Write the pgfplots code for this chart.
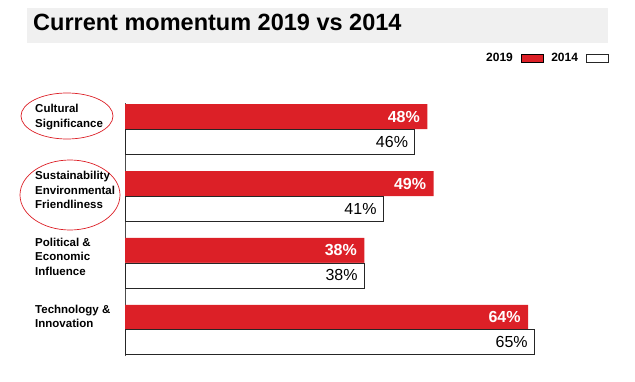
\documentclass[border=0pt]{standalone}
\usepackage{pgfplots}
\pgfplotsset{compat=1.18}
\usepackage{fontspec}
\setmainfont{Liberation Sans}
\definecolor{bred}{RGB}{220,32,39}
\definecolor{band}{RGB}{240,240,240}
\begin{document}
\begin{tikzpicture}[x=1pt,y=1pt]
\useasboundingbox (0,0) rectangle (635,381);
\fill[band] (27,338) rectangle (608,373);
\node[anchor=base west, inner sep=0, font=\bfseries\fontsize{23.5}{26}\selectfont] at (33,350) {Current momentum 2019 vs 2014};
\draw[bred, line width=0.7pt] (67,265) ellipse (46pt and 23pt);
\draw[bred, line width=0.7pt] (70,186) ellipse (50pt and 35pt);
\begin{axis}[
  at={(125pt,25pt)}, anchor=south west, scale only axis,
  width=485pt, height=253pt,
  xmin=0, xmax=77, ymin=-0.39, ymax=3.39,
  xbar, bar width=25pt,
  hide x axis, axis y line*=left, ytick=\empty,
  y axis line style={draw=black!70, line width=0.9pt},
  clip=false,
  /pgf/number format/assume math mode=true,
  nodes near coords={\pgfmathprintnumber{\pgfplotspointmeta}\%},
  nodes near coords align=center,
  legend style={at={(1,1)}, anchor=east, xshift=2pt, yshift=45pt, draw=none, fill=none,
    font=\bfseries\fontsize{12}{14}\selectfont, column sep=6pt},
  legend columns=2, legend plot pos=right,
  legend image code/.code={\draw[#1] (0pt,-4pt) rectangle (22pt,4pt);},
]
\addplot[fill=bred, draw=none, bar shift=12.5pt,
  every node near coord/.append style={anchor=east, xshift=-4pt, text=white, font=\bfseries\fontsize{16}{18}\selectfont}]
  coordinates {(48,3) (49,2) (38,1) (64,0)};
\addlegendentry{2019}
\addplot[fill=white, draw=black!85, line width=0.8pt, bar shift=-12.5pt,
  every node near coord/.append style={anchor=east, xshift=-3pt, text=black, font=\fontsize{16}{18}\selectfont}]
  coordinates {(46,3) (41,2) (38,1) (65,0)};
\addlegendentry{2014}
\begin{scope}[every node/.style={anchor=north west, inner sep=0, align=left, xshift=-90pt, yshift=25pt, font=\bfseries\fontsize{11.5}{14.5}\selectfont}]
\node at (axis cs:0,3) {Cultural\\Significance};
\node at (axis cs:0,2) {Sustainability\\Environmental\\Friendliness};
\node at (axis cs:0,1) {Political \&\\Economic\\Influence};
\node at (axis cs:0,0) {Technology \&\\Innovation};
\end{scope}
\end{axis}
\end{tikzpicture}
\end{document}
